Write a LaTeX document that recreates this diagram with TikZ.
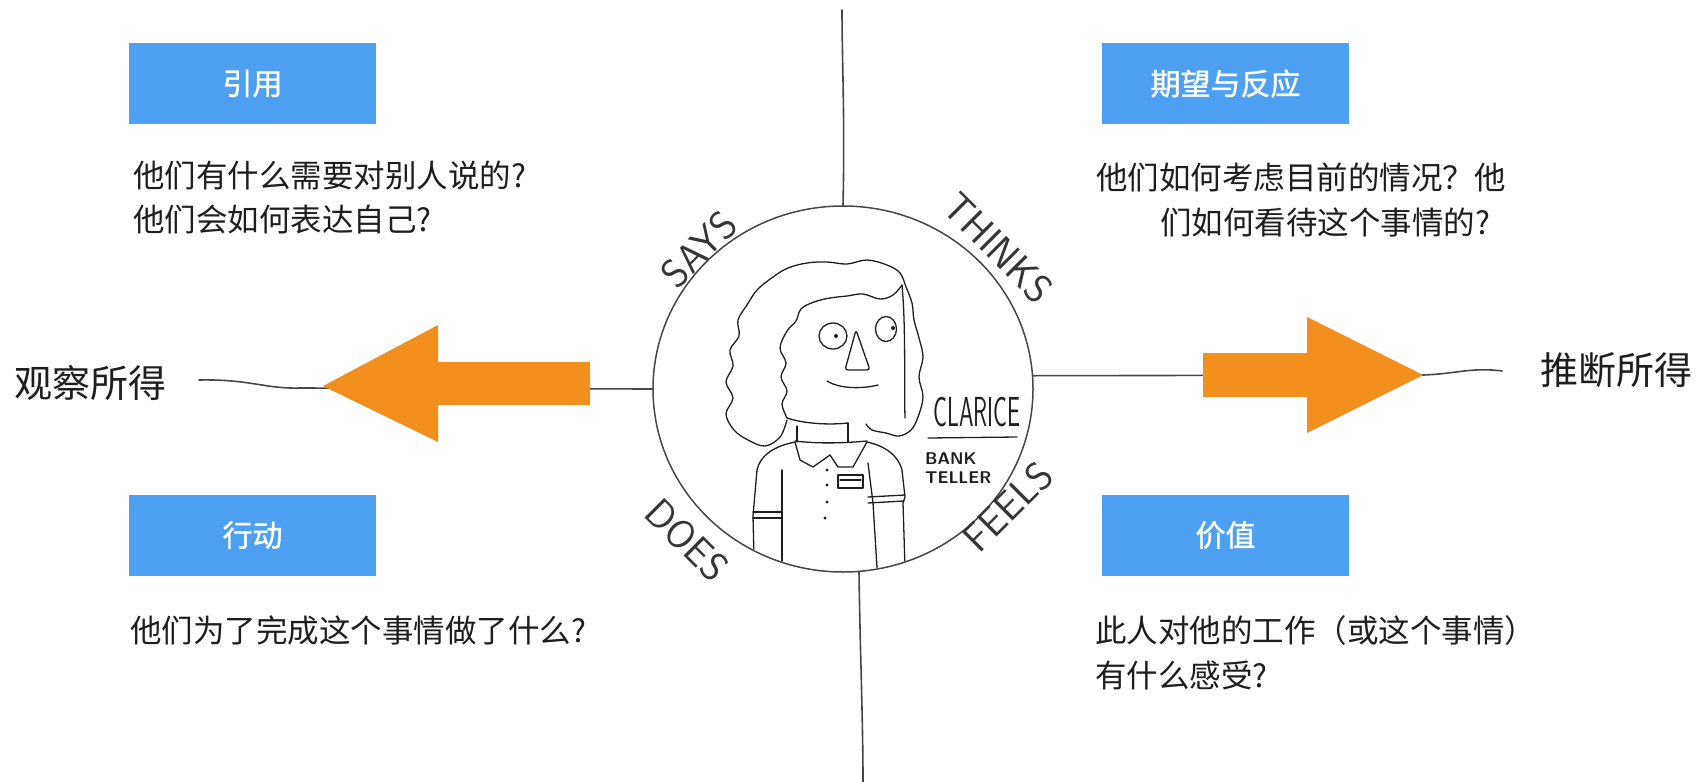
\documentclass[tikz,border=0pt]{standalone}
\usepackage{fontspec}
\newfontfamily\cjk{Noto Sans CJK SC}
\newfontfamily\cjkheavy[FakeBold=1.2]{Noto Sans CJK SC}
\usetikzlibrary{shapes.geometric}

\definecolor{tagblue}{RGB}{77,160,242}
\definecolor{arroworange}{RGB}{243,143,29}
\definecolor{ink}{RGB}{70,70,70}
\definecolor{pen}{RGB}{30,30,30}

\begin{document}
\begin{tikzpicture}[x=1pt,y=-1pt,
  tag/.style={fill=tagblue, minimum width=247pt, minimum height=81pt,
    inner sep=0pt, text=white, font=\cjkheavy\fontsize{30}{30}\selectfont},
  prompt/.style={anchor=base west, inner sep=0pt, text=pen,
    font=\cjk\fontsize{31.5}{31.5}\selectfont},
  side/.style={anchor=west, inner sep=0pt, text=pen,
    font=\cjk\fontsize{38}{38}\selectfont},
  wire/.style={draw=ink, line width=1.6pt, line cap=round},
  sketch/.style={draw=pen, line width=1.3pt, line cap=round, line join=round},
  hand/.style={inner sep=0pt, text=pen!90, font=\sffamily\fontsize{40}{40}\selectfont},
  badge/.style={inner sep=0pt, text=pen, font=\sffamily\bfseries\fontsize{17}{17}\selectfont},
]
\useasboundingbox (0,0) rectangle (1698,782);

% ---- quadrant dividers and the portrait circle ----
\node[draw=ink, line width=1.5pt, ellipse, minimum width=380pt, minimum height=366pt,
      inner sep=0pt] (face) at (843,389) {};
\coordinate (topEnd) at (842,10);
\coordinate (botEnd) at (863,782);
\coordinate (lEnd) at (199,380);
\coordinate (rEnd) at (1502,371);
\draw[wire] (face.north) .. controls (845,120) and (842,60) .. (topEnd);
\draw[wire] (face.-85) .. controls (860,650) and (863,720) .. (botEnd);
\draw[wire] (face.west) -- (300,388) .. controls (265,389) and (250,379) .. (lEnd);
\draw[wire] (face.4) -- (1423,375) .. controls (1455,374) and (1472,367) .. (rEnd);

% ---- orange arrows ----
\fill[arroworange] (438,362) rectangle (590,405);
\fill[arroworange] (438,325) -- (438,442) -- (323,386) -- cycle;
\fill[arroworange] (1203,353) rectangle (1308,397);
\fill[arroworange] (1307,317) -- (1307,433) -- (1423,375) -- cycle;

\node[side] (observed) at (14,383) {观察所得};
\node[side] (inferred) at (1540,370) {推断所得};

% ---- quadrant headings ----
\node[tag] (says-tag)   at (252.5,83.5)  {引用};
\node[tag] (thinks-tag) at (1225.5,83.5) {期望与反应};
\node[tag] (does-tag)   at (252.5,535)   {行动};
\node[tag] (feels-tag)  at (1225.5,535)  {价值};

% ---- guiding questions ----
\node[prompt] (says-q1)   at (133,187)  {他们有什么需要对别人说的?};
\node[prompt] (says-q2)   at (133,231)  {他们会如何表达自己?};
\node[prompt] (thinks-q1) at (1096,189) {他们如何考虑目前的情况？他};
\node[prompt] (thinks-q2) at (1160,234) {们如何看待这个事情的?};
\node[prompt] (does-q1)   at (130,642)  {他们为了完成这个事情做了什么?};
\node[prompt] (feels-q1)  at (1095,642) {此人对他的工作（或这个事情）};
\node[prompt] (feels-q2)  at (1095,687) {有什么感受?};

% ---- hand lettering around the circle ----
\node[hand, rotate=45]  (says)   at (699,249) {SAYS};
\node[hand, rotate=-45] (thinks) at (998,248) {THINKS};
\node[hand, rotate=-45] (does)   at (687,540) {DOES};
\node[hand, rotate=45]  (feels)  at (1008,507) {FEELS};

% ---- portrait ----
% outer outline of the hair
\draw[sketch] plot[smooth, tension=0.6] coordinates {
  (787,420) (780,437) (765,446) (748,440) (734,430) (726,414) (733,398)
  (726,382) (733,366) (730,350) (739,336) (738,320) (747,305) (757,290)
  (773,277) (788,268) (807,263) (827,262) (847,264) (867,260) (887,265)
  (900,273) (906,287) (912,303) (914,320) (919,338) (923,357) (919,377)
  (923,397) (918,417) (911,430) (899,436) (886,433) (872,430) (866,424)};
% inner edge of the hair around the face
\draw[sketch] plot[smooth, tension=0.6] coordinates {
  (787,418) (782,404) (787,391) (781,377) (786,363) (780,348) (787,331)
  (796,321) (801,309) (814,302) (830,298) (847,296) (863,294) (880,299)
  (893,295) (902,285)};
\draw[sketch] (902,285) .. controls (906,330) and (904,380) .. (905,418);
% jaw and neck
\draw[sketch] (787,418) .. controls (805,424) and (830,425) .. (848,423);
\draw[sketch] (797,426) -- (797,442);
\draw[sketch] (848,423) -- (848,442);
% eyes, nose, mouth
\draw[sketch] (833,336) ellipse [x radius=14, y radius=13];
\fill[pen] (836,336) circle [radius=2];
\draw[sketch] (886,329) ellipse [x radius=10.5, y radius=12.5];
\fill[pen] (893,328) circle [radius=2];
\draw[sketch, rounded corners=3pt] (856,330) -- (845,370) -- (870,370) -- cycle;
\draw[sketch] (827,381) .. controls (840,389) and (862,389) .. (878,385);

% shirt, clipped to the circle
\begin{scope}
  \clip (843,389) ellipse [x radius=189, y radius=182];
  % collar
  \draw[sketch] (795,441) .. controls (820,444) and (845,443) .. (867,441);
  \draw[sketch] (795,442) -- (800,460) -- (813,467) -- (830,455);
  \draw[sketch] (830,455) -- (838,467) -- (853,467) -- (867,442);
  % left shoulder, sleeve and arm
  \draw[sketch] (795,442) .. controls (775,446) and (760,455) .. (757,470)
                -- (753,516) -- (755,600);
  \draw[sketch] (753,512) -- (782,512);
  \draw[sketch] (753,518) -- (782,518);
  \draw[sketch] (782,470) -- (782,600);
  % right shoulder, sleeve and arm
  \draw[sketch] (867,442) .. controls (885,446) and (898,455) .. (902,470)
                -- (905,497) -- (903,503) -- (906,600);
  \draw[sketch] (868,497) -- (905,495);
  \draw[sketch] (868,503) -- (904,501);
  \draw[sketch] (868,463) -- (873,503) -- (879,600);
\end{scope}
% buttons and name badge
\foreach \bx/\by in {827/470, 827/485, 827/502, 825/518}
  \fill[pen] (\bx,\by) circle [radius=1.6];
\draw[sketch] (838,475) rectangle (863,488);
\draw[sketch] (840,480) -- (861,480);

% name tag text
\node[inner sep=0pt, text=pen, font=\sffamily\fontsize{42}{42}\selectfont] (name) at (977,412)
  {\scalebox{0.55}[1]{CLARICE}};
\draw[sketch] (928,438) -- (1017,437);
\node[badge, anchor=west] (role1) at (925,459) {BANK};
\node[badge, anchor=west] (role2) at (925,478) {TELLER};
\end{tikzpicture}
\end{document}
